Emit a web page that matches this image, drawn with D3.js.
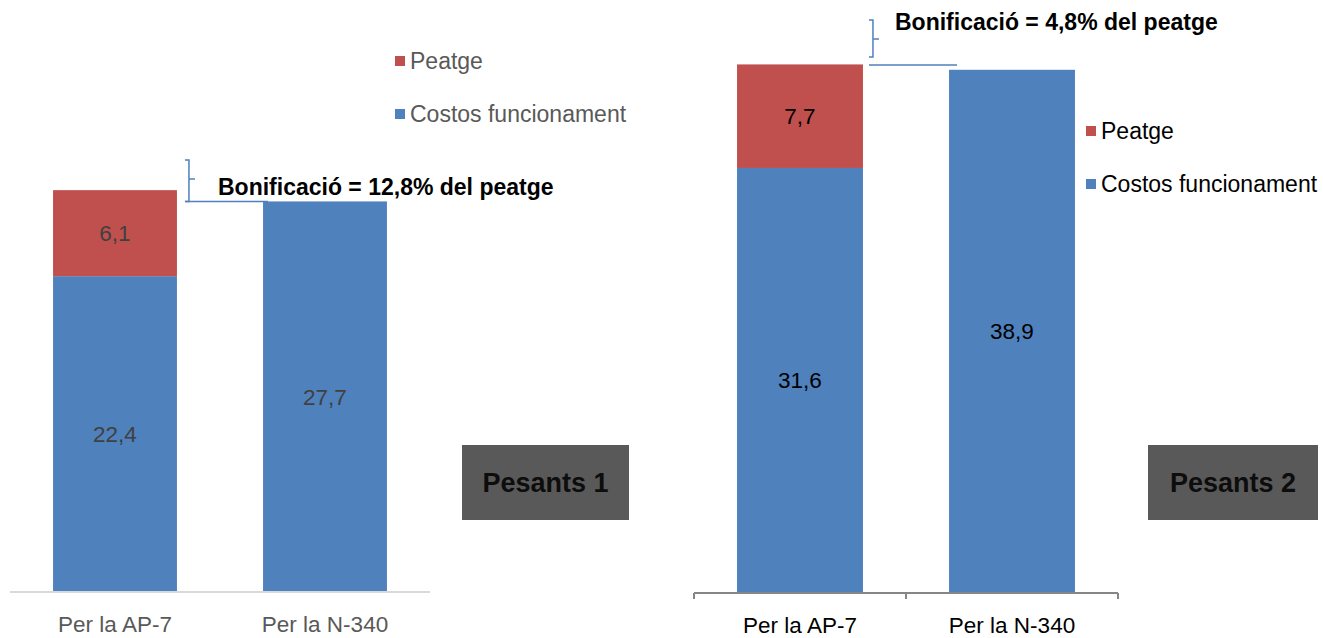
<!DOCTYPE html>
<html>
<head>
<meta charset="utf-8">
<script src="https://cdn.jsdelivr.net/npm/d3@7"></script>
<style>
  body { margin: 0; background: #fff; }
  text { font-family: "Liberation Sans", Arial, sans-serif; }
</style>
</head>
<body>
<script>
// data
var categories = ["Per la AP-7", "Per la N-340"];
var series = ["Peatge", "Costos funcionament"];
var costos1 = [22.4, 27.7], peatge1 = [6.1, 0];
var costos2 = [31.6, 38.9], peatge2 = [7.7, 0];
var bonif1 = "Bonificació = 12,8% del peatge";
var bonif2 = "Bonificació = 4,8% del peatge";
var boxLabels = ["Pesants 1", "Pesants 2"];

var red = "#c0504d", blue = "#4f81bd";

var svg = d3.select("body").append("svg")
  .attr("width", 1323).attr("height", 638);

//chart setup, one per panel
var panels = [
  {costos: costos1, peatge: peatge1, x0: 10, x1: 430, base: 592, ytop: 169, pad: 0.41,
   txt: "#595959", val: "#404040", axis: "#d9d9d9", ticks: false,
   legend: {x: 395, y: 61}, bonif: bonif1, box: {x: 462, y: 445, w: 167, h: 75}},
  {costos: costos2, peatge: peatge2, x0: 694, x1: 1118, base: 593, ytop: 55, pad: 0.406,
   txt: "#000", val: "#000", axis: "#868686", ticks: true,
   legend: {x: 1086, y: 131}, bonif: bonif2, box: {x: 1148, y: 445, w: 170, h: 75}}
];

panels.forEach(function(p, pi) {
  var g = svg.append("g");
  var x = d3.scaleBand().domain(categories).range([p.x0, p.x1])
    .paddingInner(p.pad).paddingOuter(p.pad / 2);
  var y = d3.scaleLinear().domain([0, 40 - (pi == 0 ? 10 : 0)]).range([p.base, p.ytop]);

  var rows = categories.map(function(c, i) {
    return {cat: c, costos: p.costos[i], peatge: p.peatge[i]};
  });
  var stack = d3.stack().keys(["costos", "peatge"])(rows);

  //bars
  stack.forEach(function(layer) {
    g.append("g").selectAll("rect")
      .data(layer.filter(function(d) { return d[1] > d[0]; }))
      .enter().append("rect")
        .attr("x", function(d) { return x(d.data.cat); })
        .attr("width", x.bandwidth())
        .attr("y", function(d) { return y(d[1]); })
        .attr("height", function(d) { return y(d[0]) - y(d[1]); })
        .attr("fill", layer.key == "costos" ? blue : red);

    g.append("g").selectAll("text")
      .data(layer.filter(function(d) { return d[1] > d[0]; }))
      .enter().append("text")
        .attr("x", function(d) { return x(d.data.cat) + x.bandwidth() / 2; })
        .attr("y", function(d) { return (y(d[0]) + y(d[1])) / 2; })
        .attr("dy", "0.35em")
        .attr("text-anchor", "middle")
        .attr("font-size", 22.5)
        .attr("fill", p.val)
        .text(function(d) { return d3.format(".1f")(d[1] - d[0]).replace(".", ","); });
  });

  //axis
  var ax = g.append("g").attr("transform", "translate(0," + p.base + ")")
    .call(d3.axisBottom(x).tickSize(0).tickPadding(24));
  ax.select(".domain").attr("stroke", p.axis).attr("stroke-width", 2)
    .attr("d", "M" + p.x0 + ",0H" + p.x1);
  ax.selectAll(".tick text").attr("font-size", 22.5).attr("fill", p.txt)
    .attr("font-family", "Liberation Sans, Arial, sans-serif");
  if (p.ticks) {
    [p.x0, (p.x0 + p.x1) / 2, p.x1].forEach(function(t) {
      ax.append("line").attr("x1", t).attr("x2", t).attr("y1", 0).attr("y2", 6)
        .attr("stroke", p.axis).attr("stroke-width", 2);
    });
  }

  //legend
  var lg = g.append("g").attr("transform", "translate(" + p.legend.x + "," + p.legend.y + ")");
  series.forEach(function(s, i) {
    lg.append("rect").attr("x", 0).attr("y", i * 53 - 5).attr("width", 10).attr("height", 10)
      .attr("fill", i == 0 ? red : blue);
    lg.append("text").attr("x", 15).attr("y", i * 53).attr("dy", "0.35em")
      .attr("font-size", 23).attr("fill", p.txt).text(s);
  });

  //bonificacio bracket
  var top1 = y(p.costos[0] + p.peatge[0]), top2 = y(p.costos[1] + p.peatge[1]);
  var bx = x(categories[0]) + x.bandwidth() + (pi == 0 ? 12 : 10);
  var bTop = pi == 0 ? 160 : 20, bBot = pi == 0 ? top2 : 57;
  var bMid = pi == 0 ? 179 : 39;
  g.append("path")
    .attr("d", "M" + (bx - 4) + "," + bTop + "h4V" + bBot + "h-4M" + bx + "," + bMid + "h6")
    .attr("fill", "none").attr("stroke", blue).attr("stroke-width", 1.5);
  var hy = pi == 0 ? top2 : 65;
  g.append("line").attr("x1", bx - 4).attr("x2", x(categories[1]) + (pi == 0 ? 5 : 8))
    .attr("y1", hy).attr("y2", hy).attr("stroke", blue).attr("stroke-width", 1.5);
  g.append("text").attr("x", pi == 0 ? 218 : 895).attr("y", pi == 0 ? 187 : 22)
    .attr("dy", "0.35em").attr("font-size", 23).attr("font-weight", "bold")
    .attr("fill", "#000").text(p.bonif);

  //pesants box
  g.append("rect").attr("x", p.box.x).attr("y", p.box.y)
    .attr("width", p.box.w).attr("height", p.box.h).attr("fill", "#595959");
  g.append("text").attr("x", p.box.x + p.box.w / 2).attr("y", p.box.y + p.box.h / 2)
    .attr("dy", "0.35em").attr("text-anchor", "middle")
    .attr("font-size", 27).attr("font-weight", "bold").attr("fill", "#0d0d0d")
    .text(boxLabels[pi]);
});
</script>
</body>
</html>
